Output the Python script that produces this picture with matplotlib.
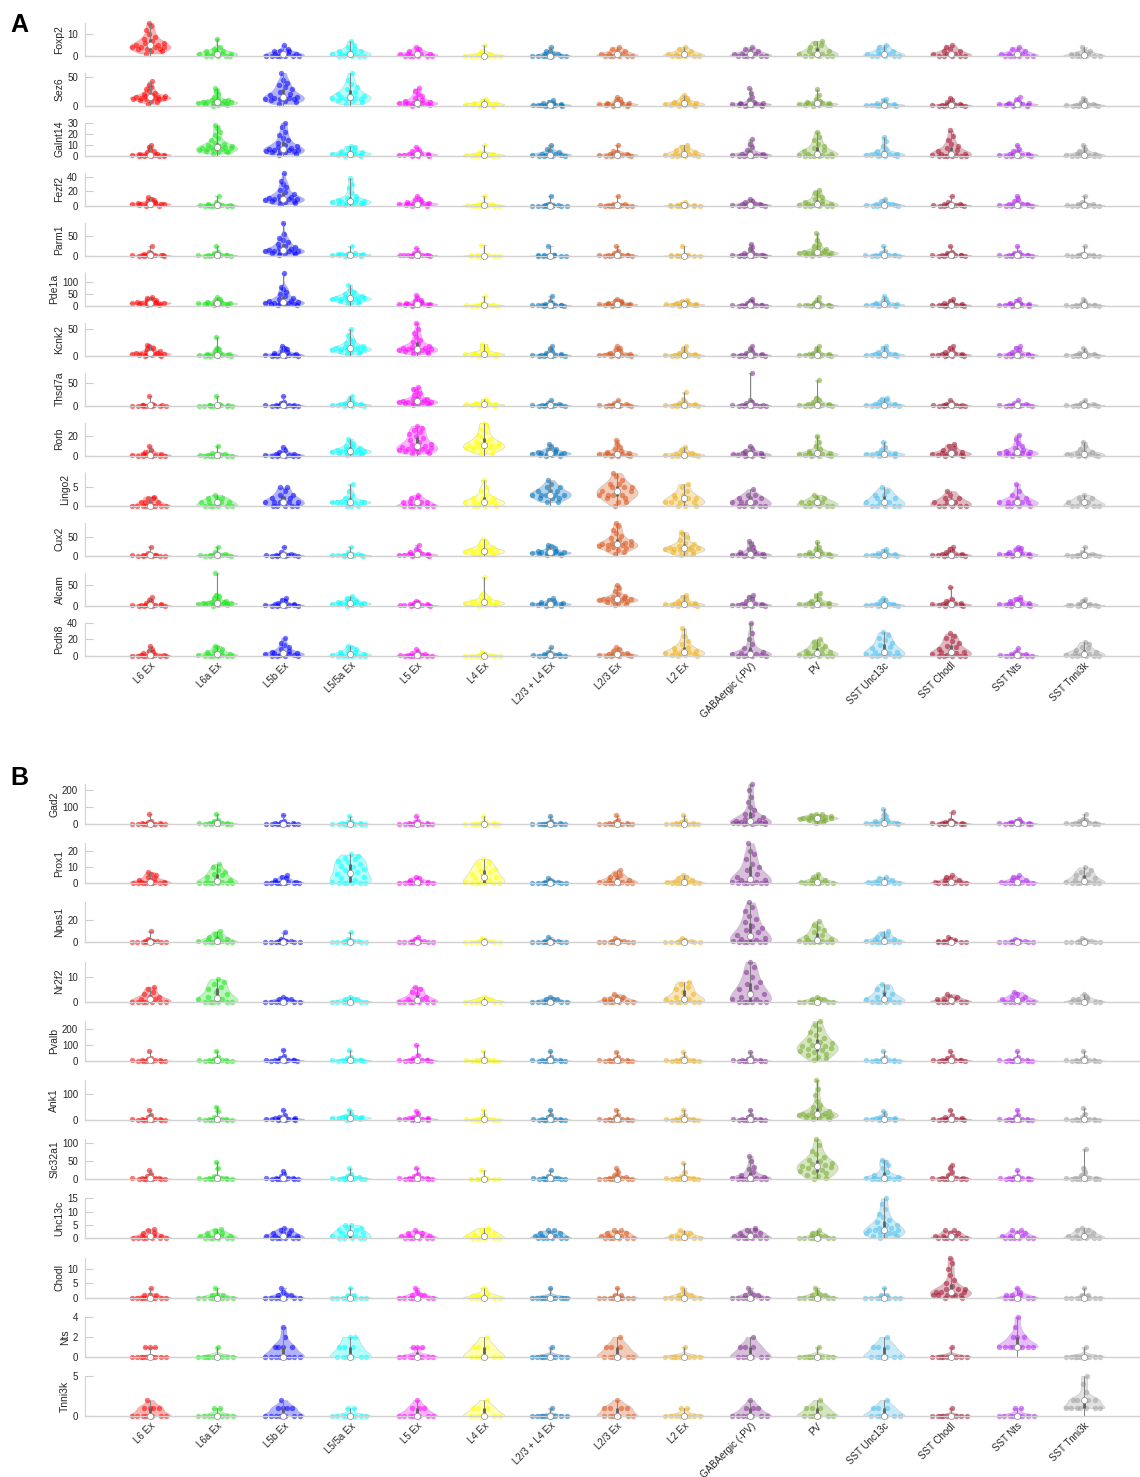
import matplotlib
matplotlib.use("Agg")
import matplotlib.pyplot as plt
import numpy as np
from matplotlib import cbook, mlab

plt.rcParams['font.family'] = ['Liberation Sans', 'DejaVu Sans']

cell_types = ['L6 Ex', 'L6a Ex', 'L5b Ex', 'L5/5a Ex', 'L5 Ex', 'L4 Ex', 'L2/3 + L4 Ex',
              'L2/3 Ex', 'L2 Ex', 'GABAergic (-PV)', 'PV', 'SST Unc13c', 'SST Chodl',
              'SST Nts', 'SST Tnni3k']
colors = [(1, 0, 0), (0.1, 0.9, 0.1), (0, 0, 1), (0, 1, 1), (1, 0, 1), (1, 1, 0),
          (0, 0.447, 0.741), (0.85, 0.325, 0.098), (0.929, 0.694, 0.125),
          (0.494, 0.184, 0.556), (0.466, 0.674, 0.188), (0.301, 0.745, 0.933),
          (0.635, 0.078, 0.184), (0.7, 0.15, 0.95), (0.62, 0.62, 0.62)]

# ---------------- panel A ----------------
foxp2 = [[1, 2, 2, 3, 3, 3, 4, 4, 4, 4, 5, 5, 5, 6, 6, 7, 8, 9, 10, 12, 14, 15.5],
         [0, 0, 0, 0, 0, 1, 1, 1, 1, 1, 2, 2, 2, 3, 4, 8],
         [0, 0, 0, 0, 0, 0, 0, 1, 1, 1, 1, 2, 2, 2, 3, 5],
         [0, 0, 0, 0, 0, 1, 1, 1, 1, 2, 2, 2, 3, 4, 5, 7],
         [0, 0, 0, 0, 0, 0, 1, 1, 1, 1, 2, 2, 3, 4],
         [0, 0, 0, 0, 0, 0, 0, 0, 1, 1, 1, 2, 5],
         [0, 0, 0, 0, 0, 0, 0, 1, 1, 1, 2, 2, 4],
         [0, 0, 0, 0, 0, 0, 1, 1, 1, 2, 2, 3, 4],
         [0, 0, 0, 0, 0, 0, 1, 1, 1, 2, 2, 3, 4],
         [0, 0, 0, 0, 0, 0, 1, 1, 1, 2, 2, 3, 4],
         [0, 0, 0, 0, 0, 1, 1, 1, 2, 2, 3, 4, 5, 6, 7],
         [0, 0, 0, 0, 0, 1, 1, 1, 2, 2, 3, 4, 5],
         [0, 0, 0, 0, 0, 1, 1, 1, 2, 2, 3, 4, 5],
         [0, 0, 0, 0, 0, 0, 1, 1, 1, 2, 2, 3, 4],
         [0, 0, 0, 0, 0, 0, 1, 1, 1, 2, 2, 4]]
sez6 = [[3, 6, 8, 10, 11, 12, 12, 13, 13, 14, 14, 15, 15, 16, 17, 18, 20, 22, 25, 28, 32, 36, 42],
        [0, 1, 2, 3, 3, 4, 5, 5, 6, 6, 7, 7, 8, 9, 10, 12, 15, 20, 25, 30],
        [3, 6, 8, 10, 11, 12, 12, 13, 14, 15, 16, 18, 20, 24, 28, 32, 36, 40, 45, 57],
        [3, 6, 8, 10, 11, 12, 13, 14, 15, 16, 18, 20, 24, 28, 32, 38, 45, 57],
        [0, 1, 2, 3, 3, 4, 4, 5, 5, 6, 7, 8, 10, 13, 16, 20, 25, 30],
        [0, 0, 1, 1, 2, 2, 3, 3, 3, 4, 4, 5, 6, 8, 12],
        [0, 0, 0, 1, 1, 1, 2, 2, 2, 3, 3, 4, 5, 7, 10],
        [0, 0, 1, 1, 2, 2, 3, 3, 3, 4, 4, 5, 6, 8, 11, 15],
        [0, 0, 1, 2, 2, 3, 3, 4, 4, 5, 6, 7, 9, 11, 14, 18],
        [0, 0, 1, 1, 2, 2, 3, 3, 3, 4, 4, 5, 7, 10, 15, 22, 30],
        [0, 1, 1, 2, 2, 3, 3, 4, 4, 5, 5, 6, 8, 12, 18, 28],
        [0, 0, 0, 1, 1, 1, 2, 2, 2, 3, 3, 4, 6, 9, 12],
        [0, 0, 0, 0, 1, 1, 1, 2, 2, 3, 4, 6, 9, 14],
        [0, 0, 1, 1, 2, 2, 3, 3, 3, 4, 4, 5, 7, 10, 15],
        [0, 0, 0, 0, 1, 1, 1, 2, 2, 3, 4, 6, 9, 14]]
galnt14 = [[0, 0, 0, 0, 0, 1, 1, 1, 1, 1, 2, 2, 2, 3, 4, 6, 8, 10],
           [2, 3, 3, 4, 4, 5, 5, 6, 6, 7, 7, 7, 8, 8, 9, 9, 10, 11, 12, 14, 16, 19, 22, 25, 28],
           [1, 2, 3, 3, 4, 4, 4, 5, 5, 5, 6, 6, 7, 8, 9, 10, 12, 14, 16, 19, 22, 26, 30],
           [0, 0, 1, 1, 1, 2, 2, 2, 2, 3, 3, 4, 5, 7, 8, 9],
           [0, 0, 0, 1, 1, 1, 1, 2, 2, 2, 3, 4, 5, 8],
           [0, 0, 0, 0, 0, 1, 1, 1, 1, 2, 2, 3, 10],
           [0, 0, 0, 0, 1, 1, 1, 2, 2, 3, 4, 6, 10],
           [0, 0, 0, 0, 1, 1, 1, 1, 2, 2, 3, 4, 10],
           [0, 0, 0, 0, 1, 1, 1, 2, 2, 3, 4, 5, 6, 8, 10],
           [0, 0, 0, 0, 1, 1, 1, 1, 2, 2, 3, 5, 8, 11, 15],
           [0, 0, 0, 0, 0, 0, 1, 1, 2, 2, 3, 4, 5, 7, 9, 11, 14, 17, 22],
           [0, 0, 0, 1, 1, 1, 1, 2, 2, 2, 3, 4, 6, 9, 13, 17],
           [0, 0, 0, 0, 0, 0, 1, 1, 2, 2, 3, 4, 5, 7, 9, 11, 14, 18, 23],
           [0, 0, 0, 0, 1, 1, 1, 1, 2, 2, 3, 4, 6, 10],
           [0, 0, 0, 0, 0, 1, 1, 1, 2, 2, 3, 4, 6, 10]]
fezf2 = [[0, 0, 1, 1, 2, 2, 2, 3, 3, 3, 4, 4, 5, 6, 8, 10, 12],
         [0, 0, 0, 0, 0, 0, 1, 1, 1, 1, 2, 2, 3, 5, 14],
         [2, 4, 5, 6, 7, 8, 8, 9, 9, 10, 10, 11, 12, 14, 16, 19, 22, 26, 30, 35, 46],
         [1, 2, 3, 3, 4, 4, 5, 5, 6, 6, 7, 8, 9, 11, 14, 18, 24, 30, 38],
         [0, 0, 1, 1, 2, 2, 3, 3, 3, 4, 4, 5, 6, 8, 10, 13],
         [0, 0, 0, 0, 0, 0, 1, 1, 1, 2, 2, 3, 14],
         [0, 0, 0, 0, 0, 0, 0, 1, 1, 1, 2, 3, 14],
         [0, 0, 0, 0, 0, 0, 1, 1, 1, 2, 2, 3, 14],
         [0, 0, 0, 0, 0, 0, 1, 1, 1, 1, 2, 3, 5],
         [0, 0, 0, 0, 1, 1, 1, 2, 2, 3, 4, 5, 7, 10],
         [0, 0, 0, 0, 0, 1, 1, 2, 2, 3, 4, 5, 7, 9, 12, 15, 18, 22],
         [0, 0, 0, 0, 1, 1, 1, 2, 2, 3, 4, 6, 10],
         [0, 0, 0, 0, 1, 1, 1, 1, 2, 2, 3, 5, 14],
         [0, 0, 0, 0, 1, 1, 1, 2, 2, 3, 4, 6, 9, 14],
         [0, 0, 0, 0, 0, 1, 1, 1, 2, 2, 3, 5, 14]]
parm1 = [[0, 0, 0, 0, 1, 1, 1, 2, 2, 2, 3, 4, 6, 10, 25],
         [0, 0, 0, 0, 1, 1, 1, 2, 2, 3, 4, 6, 10, 25],
         [2, 4, 6, 8, 9, 10, 11, 12, 12, 13, 14, 15, 17, 20, 23, 26, 30, 35, 40, 45, 55, 85],
         [0, 0, 1, 1, 2, 2, 3, 3, 4, 4, 5, 5, 6, 8, 25],
         [0, 0, 0, 1, 1, 1, 2, 2, 2, 3, 4, 6, 10, 20],
         [0, 0, 0, 0, 0, 0, 1, 1, 1, 2, 3, 28],
         [0, 0, 0, 0, 0, 0, 1, 1, 1, 2, 3, 25],
         [0, 0, 0, 0, 1, 1, 1, 2, 2, 3, 5, 8, 12, 25],
         [0, 0, 0, 0, 0, 0, 1, 1, 1, 2, 3, 25],
         [0, 0, 0, 0, 1, 1, 2, 2, 2, 3, 4, 6, 10, 16, 22, 30],
         [0, 1, 2, 3, 4, 5, 6, 7, 8, 8, 9, 10, 11, 13, 16, 20, 25, 30, 40, 58],
         [0, 0, 0, 0, 1, 1, 1, 2, 2, 3, 5, 8, 12, 25],
         [0, 0, 0, 0, 1, 1, 1, 2, 2, 3, 5, 8, 10, 25],
         [0, 0, 0, 0, 1, 1, 1, 2, 2, 3, 5, 8, 10, 25],
         [0, 0, 0, 0, 0, 1, 1, 1, 2, 2, 3, 5, 25]]
pde1a = [[2, 4, 6, 8, 9, 10, 11, 12, 12, 13, 14, 15, 17, 20, 24, 28, 33, 38],
         [2, 4, 6, 7, 8, 9, 10, 10, 11, 12, 13, 15, 18, 22, 28, 35],
         [2, 4, 6, 8, 9, 10, 11, 12, 13, 14, 16, 18, 22, 27, 33, 40, 50, 60, 70, 80, 140],
         [8, 12, 16, 20, 22, 25, 27, 28, 30, 31, 32, 34, 36, 38, 42, 46, 50, 56, 65, 88],
         [0, 1, 2, 3, 4, 5, 6, 7, 8, 9, 10, 12, 15, 20, 25, 32, 45],
         [0, 0, 0, 0, 1, 1, 2, 2, 3, 4, 6, 10, 40],
         [0, 0, 0, 1, 1, 2, 2, 3, 3, 4, 5, 7, 10, 20, 40],
         [0, 1, 2, 3, 4, 5, 6, 7, 7, 8, 10, 12, 15, 18, 22, 30],
         [0, 1, 2, 3, 4, 5, 6, 6, 7, 8, 10, 13, 16, 20, 25],
         [0, 0, 0, 0, 1, 1, 2, 2, 3, 4, 6, 10, 15, 20, 30],
         [0, 0, 0, 1, 1, 2, 2, 3, 3, 4, 6, 10, 15, 20, 35],
         [0, 0, 1, 2, 3, 4, 5, 5, 6, 7, 9, 12, 16, 20, 30, 40],
         [0, 0, 1, 1, 2, 3, 3, 4, 5, 6, 8, 10, 15, 20, 30],
         [0, 0, 1, 2, 3, 4, 4, 5, 6, 7, 8, 10, 13, 18, 30],
         [0, 0, 0, 0, 1, 1, 2, 2, 3, 4, 6, 10, 15, 30]]
kcnk2 = [[0, 0, 1, 1, 2, 2, 3, 3, 4, 4, 5, 5, 6, 7, 8, 10, 12, 15, 18, 20],
         [0, 0, 0, 0, 1, 1, 1, 2, 2, 3, 3, 4, 6, 8, 12, 15, 36],
         [0, 0, 0, 0, 1, 1, 1, 2, 2, 3, 4, 5, 7, 9, 12, 15, 18],
         [3, 5, 7, 8, 9, 10, 11, 12, 13, 13, 14, 15, 16, 17, 18, 20, 23, 27, 32, 38, 50],
         [3, 5, 7, 8, 9, 10, 11, 11, 12, 12, 13, 14, 15, 17, 19, 22, 26, 30, 36, 42, 50, 62],
         [0, 0, 1, 1, 2, 2, 3, 3, 4, 4, 5, 6, 8, 11, 15, 19, 22],
         [0, 0, 0, 0, 1, 1, 1, 2, 2, 3, 4, 6, 9, 13, 18],
         [0, 0, 0, 1, 1, 1, 2, 2, 3, 3, 4, 6, 8, 11, 14, 18],
         [0, 0, 0, 0, 1, 1, 1, 2, 2, 3, 4, 6, 9, 13, 18],
         [0, 0, 0, 0, 1, 1, 2, 2, 2, 3, 4, 6, 9, 13, 18],
         [0, 0, 0, 1, 1, 1, 2, 2, 3, 3, 4, 6, 9, 13, 18],
         [0, 0, 0, 1, 1, 2, 2, 3, 3, 4, 5, 7, 10, 14, 18],
         [0, 0, 0, 1, 1, 2, 2, 3, 3, 4, 5, 7, 10, 14, 18],
         [0, 0, 0, 0, 1, 1, 2, 2, 3, 4, 5, 7, 10, 14, 18],
         [0, 0, 0, 0, 1, 1, 1, 2, 2, 3, 4, 5, 8, 15]]
thsd7a = [[0, 0, 0, 0, 0, 0, 0, 1, 1, 1, 2, 2, 3, 22],
          [0, 0, 0, 0, 0, 0, 0, 1, 1, 1, 2, 2, 3, 22],
          [0, 0, 0, 0, 0, 1, 1, 1, 2, 2, 3, 5, 8, 22],
          [0, 0, 0, 1, 1, 2, 2, 3, 3, 4, 5, 7, 10, 14, 22],
          [1, 3, 4, 5, 6, 7, 8, 8, 9, 9, 10, 11, 12, 14, 16, 19, 23, 28, 34, 38, 42],
          [0, 0, 1, 1, 2, 2, 3, 3, 3, 4, 5, 6, 8, 11, 15],
          [0, 0, 0, 0, 1, 1, 1, 2, 2, 3, 4, 6, 12],
          [0, 0, 0, 0, 1, 1, 1, 2, 2, 3, 4, 6, 12],
          [0, 0, 0, 0, 1, 1, 1, 2, 2, 3, 4, 6, 9, 14, 30],
          [0, 0, 0, 0, 0, 1, 1, 1, 2, 2, 3, 5, 8, 12, 74],
          [0, 0, 0, 0, 1, 1, 2, 2, 3, 4, 6, 9, 13, 18, 58],
          [0, 0, 0, 0, 1, 1, 2, 2, 3, 4, 6, 9, 12, 15, 18],
          [0, 0, 0, 0, 0, 1, 1, 1, 2, 2, 3, 4, 6, 12],
          [0, 0, 0, 0, 1, 1, 1, 2, 2, 3, 4, 6, 12],
          [0, 0, 0, 0, 1, 1, 1, 2, 2, 3, 4, 6, 12]]
rorb = [[0, 0, 0, 0, 0, 1, 1, 1, 2, 2, 3, 4, 6, 10],
        [0, 0, 0, 0, 0, 0, 1, 1, 1, 2, 2, 3, 10],
        [0, 0, 0, 0, 0, 1, 1, 1, 2, 2, 3, 4, 6, 9],
        [1, 2, 2, 3, 3, 4, 4, 4, 5, 5, 5, 6, 6, 7, 8, 9, 10, 12, 14, 17],
        [2, 3, 4, 5, 5, 6, 6, 7, 7, 8, 8, 9, 10, 11, 12, 14, 16, 18, 20, 22, 24, 26, 28, 30],
        [2, 3, 5, 6, 7, 8, 8, 9, 9, 10, 10, 11, 11, 12, 13, 14, 15, 17, 19, 21, 24, 27, 30, 33],
        [0, 0, 1, 1, 2, 2, 2, 3, 3, 3, 4, 4, 5, 6, 7, 9, 12],
        [0, 0, 0, 1, 1, 1, 2, 2, 2, 3, 3, 4, 5, 7, 9, 12, 16],
        [0, 0, 0, 0, 1, 1, 1, 2, 2, 3, 4, 6, 9],
        [0, 0, 0, 1, 1, 1, 2, 2, 3, 3, 4, 5, 7, 10],
        [0, 0, 0, 1, 1, 1, 2, 2, 3, 3, 4, 5, 7, 10, 14, 20],
        [0, 0, 1, 1, 1, 2, 2, 2, 3, 3, 4, 6, 9, 14],
        [0, 0, 1, 1, 1, 2, 2, 3, 3, 4, 5, 6, 8, 10, 12],
        [0, 0, 1, 1, 2, 2, 3, 3, 3, 4, 4, 5, 6, 8, 10, 13, 17, 21],
        [0, 0, 0, 1, 1, 1, 2, 2, 3, 4, 5, 7, 10, 14]]
lingo2 = [[0, 0, 0, 0, 0, 0, 0, 0, 1, 1, 1, 1, 2, 2, 2.5],
          [0, 0, 0, 0, 0, 0, 1, 1, 1, 1, 2, 2, 2, 3],
          [0, 0, 0, 0, 0, 1, 1, 1, 1, 1, 2, 2, 2, 3, 3, 4, 5, 5],
          [0, 0, 0, 1, 1, 1, 1, 1, 1, 1, 2, 2, 3, 4, 6],
          [0, 0, 0, 0, 0, 0, 1, 1, 1, 1, 2, 2, 3],
          [0, 0, 0, 0, 1, 1, 1, 1, 1, 2, 2, 2, 3, 4, 5, 7],
          [1, 1, 2, 2, 2, 3, 3, 3, 3, 3, 4, 4, 4, 5, 5, 6, 7],
          [0, 1, 1, 2, 2, 3, 3, 3, 3, 4, 4, 4, 5, 5, 5, 6, 6, 7, 8, 9],
          [0, 0, 0, 1, 1, 1, 1, 2, 2, 2, 3, 3, 4, 5, 6],
          [0, 0, 0, 0, 0, 1, 1, 1, 1, 2, 2, 2, 3, 3, 4.5],
          [0, 0, 0, 0, 0, 1, 1, 1, 1, 2, 2, 3],
          [0, 0, 0, 0, 0, 1, 1, 1, 2, 2, 3, 3, 4, 5],
          [0, 0, 0, 0, 0, 1, 1, 1, 2, 2, 3, 4],
          [0, 0, 0, 0, 1, 1, 1, 1, 1, 2, 2, 3, 4, 6],
          [0, 0, 0, 0, 0, 1, 1, 1, 2, 2, 3]]
cux2 = [[0, 0, 0, 0, 0, 1, 1, 1, 2, 3, 5, 8, 25],
        [0, 0, 0, 0, 1, 1, 2, 2, 3, 4, 6, 10, 25],
        [0, 0, 0, 0, 1, 1, 2, 2, 3, 4, 6, 10, 25],
        [0, 0, 0, 1, 1, 2, 2, 3, 3, 4, 6, 10, 25],
        [0, 0, 1, 2, 2, 3, 3, 4, 5, 6, 7, 9, 12, 18, 30],
        [1, 3, 5, 7, 8, 10, 11, 12, 13, 14, 15, 16, 18, 20, 23, 27, 32, 38, 45],
        [1, 3, 4, 5, 6, 7, 8, 9, 10, 10, 11, 12, 14, 17, 21, 26, 30],
        [5, 10, 15, 18, 21, 24, 26, 28, 29, 30, 31, 32, 34, 36, 39, 43, 48, 55, 62, 70, 80, 90],
        [2, 5, 8, 11, 13, 15, 17, 18, 19, 20, 21, 22, 24, 27, 31, 36, 42, 50, 58, 65],
        [0, 0, 0, 1, 2, 2, 3, 4, 5, 6, 7, 9, 13, 18, 25, 32, 40],
        [0, 0, 0, 1, 2, 2, 3, 4, 5, 6, 7, 9, 13, 18, 25, 38],
        [0, 0, 0, 1, 1, 2, 2, 3, 3, 4, 5, 7, 10, 14, 18],
        [0, 0, 0, 1, 1, 2, 2, 3, 4, 5, 7, 10, 14, 19, 25],
        [0, 0, 1, 1, 2, 3, 4, 4, 5, 6, 7, 9, 12, 16, 20, 25],
        [0, 0, 0, 0, 1, 1, 2, 2, 3, 4, 6, 10, 25]]
alcam = [[0, 0, 0, 0, 1, 1, 1, 2, 2, 3, 4, 6, 10, 14, 20],
         [0, 1, 2, 3, 4, 4, 5, 5, 6, 6, 7, 7, 8, 9, 11, 14, 18, 22, 25, 78],
         [0, 0, 0, 0, 1, 1, 2, 2, 3, 4, 5, 7, 10, 14, 18],
         [0, 1, 2, 3, 4, 4, 5, 5, 6, 6, 7, 8, 9, 11, 13, 16, 19, 22],
         [0, 0, 0, 1, 1, 1, 2, 2, 3, 3, 4, 6, 9, 12],
         [0, 1, 2, 3, 4, 5, 6, 7, 8, 8, 9, 10, 12, 14, 18, 23, 28, 68],
         [0, 0, 1, 2, 3, 3, 4, 5, 5, 6, 7, 8, 10, 13, 18],
         [2, 5, 7, 9, 11, 12, 13, 14, 15, 15, 16, 17, 19, 21, 24, 28, 34, 42, 50],
         [0, 0, 1, 1, 2, 3, 3, 4, 5, 6, 8, 11, 15, 20, 25],
         [0, 0, 0, 1, 1, 2, 2, 3, 4, 5, 7, 10, 15, 20, 25],
         [0, 0, 1, 2, 3, 4, 5, 5, 6, 7, 9, 12, 17, 24, 30],
         [0, 0, 0, 1, 1, 2, 2, 3, 4, 5, 7, 10, 14, 18],
         [0, 0, 1, 1, 2, 3, 3, 4, 5, 6, 8, 11, 16, 45],
         [0, 0, 1, 1, 2, 3, 3, 4, 5, 6, 8, 10, 13, 16, 20],
         [0, 0, 0, 1, 1, 1, 2, 2, 3, 4, 6, 10, 15]]
pcdh8 = [[0, 0, 0, 0, 0, 0, 0, 1, 1, 1, 2, 3, 4, 6, 8, 12],
         [0, 0, 0, 0, 0, 0, 1, 1, 2, 2, 3, 4, 5, 6, 8, 10, 12],
         [0, 0, 0, 0, 1, 1, 2, 2, 3, 3, 4, 5, 6, 8, 10, 13, 16, 22],
         [0, 0, 0, 0, 0, 0, 1, 1, 2, 2, 3, 4, 5, 6, 8, 10, 12],
         [0, 0, 0, 0, 0, 0, 1, 1, 1, 2, 2, 3, 5, 8],
         [0, 0, 0, 0, 0, 0, 0, 1, 1, 1, 2, 5],
         [0, 0, 0, 0, 0, 1, 1, 1, 2, 2, 3, 5, 10],
         [0, 0, 0, 0, 1, 1, 1, 2, 2, 3, 4, 6, 8, 10],
         [0, 0, 1, 1, 2, 3, 3, 4, 5, 6, 7, 9, 11, 14, 18, 24, 33],
         [0, 0, 0, 0, 1, 1, 2, 2, 3, 4, 6, 9, 14, 20, 28, 40],
         [0, 0, 0, 0, 0, 1, 1, 2, 3, 4, 5, 6, 8, 10, 12, 14, 17, 20],
         [0, 0, 0, 0, 0, 1, 2, 3, 4, 5, 7, 9, 11, 13, 16, 19, 22, 25, 29],
         [0, 0, 0, 0, 0, 1, 2, 3, 4, 5, 6, 8, 10, 12, 15, 18, 21, 24, 27],
         [0, 0, 0, 0, 0, 1, 1, 1, 2, 2, 3, 5, 9],
         [0, 0, 0, 0, 0, 1, 1, 2, 3, 4, 5, 7, 9, 11, 14, 17]]

# ---------------- panel B ----------------
gad2 = [[0, 0, 0, 0, 1, 1, 2, 2, 3, 4, 6, 10, 20, 60],
        [0, 0, 1, 1, 2, 3, 4, 5, 6, 8, 12, 18, 25, 60],
        [0, 0, 0, 0, 1, 1, 2, 2, 3, 4, 6, 10, 20, 55],
        [0, 0, 0, 0, 1, 1, 2, 2, 3, 4, 6, 10, 20, 45],
        [0, 0, 0, 0, 1, 1, 2, 2, 3, 4, 6, 10, 20, 45],
        [0, 0, 0, 0, 1, 1, 1, 2, 2, 3, 5, 8, 20, 45],
        [0, 0, 0, 0, 1, 1, 1, 2, 2, 3, 5, 8, 20, 45],
        [0, 0, 0, 0, 1, 1, 2, 2, 3, 4, 6, 10, 25, 50],
        [0, 0, 0, 0, 1, 1, 2, 2, 3, 4, 6, 10, 25, 50],
        [0, 1, 2, 3, 4, 5, 6, 8, 10, 12, 15, 20, 25, 32, 40, 50, 60, 80, 100, 130, 160, 200, 235],
        [5, 12, 18, 22, 25, 28, 30, 32, 34, 35, 36, 38, 40, 42, 45, 48, 52, 56, 60],
        [0, 0, 1, 2, 3, 3, 4, 5, 6, 8, 11, 15, 22, 30, 45, 60, 90],
        [0, 0, 0, 1, 2, 3, 4, 5, 6, 7, 9, 12, 18, 25, 70],
        [0, 0, 0, 1, 2, 3, 4, 5, 6, 7, 9, 12, 16, 20, 30],
        [0, 0, 0, 1, 2, 3, 4, 5, 6, 8, 11, 15, 22, 30, 60]]
prox1 = [[0, 0, 0, 0, 0, 0, 0, 1, 1, 1, 2, 2, 3, 4, 5, 6, 7],
         [0, 0, 0, 0, 0, 0, 0, 1, 1, 2, 3, 4, 5, 6, 7, 8, 10, 12],
         [0, 0, 0, 0, 0, 0, 0, 1, 1, 1, 2, 2, 3, 4, 5],
         [0, 0, 0, 0, 0, 0, 1, 2, 3, 4, 5, 6, 7, 8, 9, 10, 11, 12, 13, 14, 15, 16, 17, 18],
         [0, 0, 0, 0, 0, 0, 0, 1, 1, 1, 2, 2, 3, 4],
         [0, 0, 0, 0, 0, 0, 1, 2, 3, 4, 5, 6, 7, 8, 9, 10, 12, 13, 15],
         [0, 0, 0, 0, 0, 0, 0, 1, 1, 1, 2, 3],
         [0, 0, 0, 0, 0, 0, 1, 1, 2, 2, 3, 4, 5, 6, 8],
         [0, 0, 0, 0, 0, 0, 1, 1, 1, 2, 2, 3, 4, 5],
         [0, 0, 0, 0, 0, 0, 1, 1, 2, 2, 3, 4, 6, 8, 10, 12, 15, 18, 20, 25],
         [0, 0, 0, 0, 0, 0, 1, 1, 2, 2, 3, 4, 6],
         [0, 0, 0, 0, 0, 0, 1, 1, 1, 2, 2, 3, 4],
         [0, 0, 0, 0, 0, 0, 1, 1, 2, 2, 3, 4, 5],
         [0, 0, 0, 0, 0, 0, 1, 1, 2, 2, 3, 4, 5],
         [0, 0, 0, 0, 0, 0, 1, 1, 2, 3, 4, 5, 6, 7, 8, 10]]
npas1 = [[0, 0, 0, 0, 0, 0, 0, 1, 1, 1, 2, 3, 10],
         [0, 0, 0, 0, 0, 0, 1, 1, 2, 3, 4, 5, 6, 8, 10],
         [0, 0, 0, 0, 0, 0, 0, 1, 1, 1, 2, 3, 9],
         [0, 0, 0, 0, 0, 0, 0, 1, 1, 1, 2, 3, 9],
         [0, 0, 0, 0, 0, 0, 0, 1, 1, 1, 2, 3, 5],
         [0, 0, 0, 0, 0, 0, 0, 1, 1, 1, 2, 4],
         [0, 0, 0, 0, 0, 0, 0, 1, 1, 1, 2, 5],
         [0, 0, 0, 0, 0, 0, 0, 1, 1, 1, 2, 4],
         [0, 0, 0, 0, 0, 0, 0, 1, 1, 1, 2, 4],
         [0, 0, 0, 0, 0, 0, 1, 2, 3, 4, 5, 7, 9, 11, 13, 15, 18, 21, 24, 28, 32, 36],
         [0, 0, 0, 0, 0, 0, 1, 1, 2, 3, 4, 5, 7, 9, 11, 13, 16, 19],
         [0, 0, 0, 0, 0, 0, 1, 1, 2, 3, 4, 5, 7, 8, 10],
         [0, 0, 0, 0, 0, 0, 1, 1, 1, 2, 3, 5],
         [0, 0, 0, 0, 0, 0, 0, 1, 1, 1, 2, 3],
         [0, 0, 0, 0, 0, 0, 0, 1, 1, 1, 2, 4]]
nr2f2 = [[0, 0, 0, 0, 0, 0, 0, 1, 1, 2, 2, 3, 4, 5, 6],
         [0, 0, 0, 0, 0, 0, 1, 1, 2, 3, 4, 5, 6, 7, 8, 9],
         [0, 0, 0, 0, 0, 0, 0, 1, 1, 1, 2],
         [0, 0, 0, 0, 0, 0, 0, 1, 1, 1, 2],
         [0, 0, 0, 0, 0, 0, 0, 1, 1, 2, 3, 4, 5, 6],
         [0, 0, 0, 0, 0, 0, 0, 1, 1, 1, 2],
         [0, 0, 0, 0, 0, 0, 0, 1, 1, 1, 2],
         [0, 0, 0, 0, 0, 0, 1, 1, 1, 2, 2, 3],
         [0, 0, 0, 0, 0, 0, 1, 1, 2, 3, 4, 5, 6, 7, 8],
         [0, 0, 0, 0, 0, 0, 1, 1, 2, 3, 4, 5, 6, 7, 8, 10, 12, 14, 16],
         [0, 0, 0, 0, 0, 0, 0, 1, 1, 1, 2],
         [0, 0, 0, 0, 0, 0, 1, 1, 2, 3, 4, 5, 6, 7],
         [0, 0, 0, 0, 0, 0, 1, 1, 1, 2, 2, 3],
         [0, 0, 0, 0, 0, 0, 1, 1, 2, 2, 3, 4],
         [0, 0, 0, 0, 0, 0, 1, 1, 1, 2, 3]]
pvalb = [[0, 0, 0, 0, 1, 1, 2, 2, 3, 4, 6, 10, 20, 60],
         [0, 0, 0, 0, 1, 1, 2, 2, 3, 4, 6, 10, 25, 60],
         [0, 0, 0, 1, 2, 3, 4, 5, 6, 8, 11, 15, 30, 70],
         [0, 0, 0, 1, 2, 3, 4, 5, 6, 8, 10, 15, 25, 65],
         [0, 0, 0, 1, 2, 3, 4, 5, 6, 8, 11, 15, 35, 100],
         [0, 0, 0, 0, 1, 1, 2, 2, 3, 4, 6, 10, 20, 60],
         [0, 0, 0, 0, 1, 1, 2, 2, 3, 4, 6, 10, 25, 60],
         [0, 0, 0, 0, 1, 1, 2, 2, 3, 4, 6, 10, 25, 55],
         [0, 0, 0, 0, 1, 1, 2, 2, 3, 4, 6, 10, 25, 55],
         [0, 0, 0, 0, 1, 1, 2, 2, 3, 4, 6, 10, 25, 55],
         [5, 15, 25, 35, 45, 55, 62, 70, 75, 80, 85, 90, 95, 100, 110, 120, 130, 145, 160, 180, 200, 225, 250],
         [0, 0, 0, 0, 1, 1, 2, 2, 3, 4, 6, 10, 25, 60],
         [0, 0, 0, 1, 2, 3, 4, 5, 6, 8, 11, 15, 30, 60],
         [0, 0, 0, 0, 1, 1, 2, 2, 3, 4, 6, 10, 25, 60],
         [0, 0, 0, 0, 1, 1, 2, 2, 3, 4, 6, 10, 25, 60]]
ank1 = [[0, 0, 0, 0, 1, 1, 2, 2, 3, 4, 6, 10, 20, 40],
        [0, 0, 0, 0, 1, 1, 2, 2, 3, 4, 6, 10, 35, 52],
        [0, 0, 1, 2, 3, 4, 5, 5, 6, 7, 9, 12, 20, 40],
        [0, 2, 4, 6, 7, 8, 9, 10, 11, 12, 14, 17, 25, 40],
        [0, 0, 1, 2, 3, 4, 5, 5, 6, 7, 9, 12, 22, 35],
        [0, 0, 0, 0, 1, 1, 2, 2, 3, 4, 6, 10, 20, 40],
        [0, 0, 0, 0, 1, 1, 2, 2, 3, 4, 6, 10, 20, 40],
        [0, 0, 0, 0, 1, 1, 2, 2, 3, 4, 6, 10, 20, 40],
        [0, 0, 0, 0, 1, 1, 2, 2, 3, 4, 6, 10, 20, 40],
        [0, 0, 0, 0, 1, 1, 2, 2, 3, 4, 6, 10, 20, 40],
        [2, 5, 8, 11, 14, 16, 18, 19, 20, 21, 22, 24, 26, 30, 35, 42, 50, 60, 75, 95, 120, 155],
        [0, 0, 1, 2, 3, 4, 5, 5, 6, 7, 9, 12, 22, 35],
        [0, 0, 0, 1, 2, 3, 4, 4, 5, 6, 8, 10, 20, 40],
        [0, 0, 0, 0, 1, 1, 2, 2, 3, 4, 6, 10, 20, 40],
        [0, 0, 0, 0, 1, 1, 2, 2, 3, 4, 6, 10, 25, 45]]
slc32a1 = [[0, 0, 0, 0, 1, 1, 2, 2, 3, 4, 5, 8, 15, 25],
           [0, 0, 0, 0, 1, 1, 2, 2, 3, 4, 6, 10, 30, 48],
           [0, 0, 0, 0, 1, 1, 2, 2, 3, 4, 5, 8, 15, 22],
           [0, 0, 0, 0, 1, 1, 2, 3, 4, 5, 6, 10, 15, 30],
           [0, 0, 0, 0, 1, 1, 2, 2, 3, 4, 6, 10, 15, 32],
           [0, 0, 0, 0, 0, 0, 1, 1, 1, 2, 4, 25],
           [0, 0, 0, 0, 1, 1, 2, 2, 3, 4, 6, 10, 25],
           [0, 0, 0, 0, 1, 1, 1, 2, 3, 5, 8, 12, 20, 30],
           [0, 0, 0, 0, 1, 1, 2, 2, 3, 4, 6, 10, 20, 45],
           [0, 0, 0, 0, 1, 1, 2, 2, 3, 5, 8, 12, 20, 28, 35, 50, 65],
           [0, 4, 8, 12, 16, 20, 24, 27, 30, 33, 35, 37, 40, 43, 46, 50, 55, 62, 70, 80, 95, 112],
           [0, 0, 0, 0, 1, 1, 2, 2, 3, 5, 8, 12, 20, 30, 40, 48, 55],
           [0, 0, 0, 0, 1, 1, 2, 2, 3, 4, 6, 12, 20, 30, 40],
           [0, 0, 0, 0, 1, 1, 2, 2, 2, 3, 4, 6, 10, 25],
           [0, 0, 0, 0, 1, 1, 2, 2, 3, 4, 6, 12, 20, 30, 85]]
unc13c = [[0, 0, 0, 0, 0, 0, 0, 1, 1, 1, 1, 2, 2, 3, 3.5],
          [0, 0, 0, 0, 0, 0, 1, 1, 1, 1, 2, 2, 2, 3, 3.5],
          [0, 0, 0, 0, 0, 0, 1, 1, 1, 1, 2, 2, 2, 3, 3, 4],
          [0, 0, 0, 0, 0, 1, 1, 1, 2, 2, 2, 3, 3, 4, 4, 5, 5],
          [0, 0, 0, 0, 0, 0, 1, 1, 1, 1, 2, 2, 2, 3],
          [0, 0, 0, 0, 0, 0, 1, 1, 1, 2, 2, 2, 3, 3, 4],
          [0, 0, 0, 0, 0, 0, 1, 1, 1, 2, 2, 2, 3, 3],
          [0, 0, 0, 0, 0, 0, 1, 1, 1, 2, 2, 2, 3, 3],
          [0, 0, 0, 0, 0, 0, 1, 1, 1, 2, 2, 3],
          [0, 0, 0, 0, 0, 0, 1, 1, 1, 2, 2, 2, 3, 3, 4],
          [0, 0, 0, 0, 0, 0, 0, 1, 1, 1, 2, 2, 3],
          [0, 1, 1, 1, 2, 2, 2, 2, 3, 3, 3, 3, 4, 4, 5, 5, 6, 7, 8, 9, 11, 13, 15],
          [0, 0, 0, 0, 0, 0, 1, 1, 1, 2, 2, 3, 3],
          [0, 0, 0, 0, 0, 0, 1, 1, 1, 2, 2, 3, 3],
          [0, 0, 0, 0, 0, 0, 1, 1, 1, 2, 2, 3, 3, 4]]
chodl = [[0, 0, 0, 0, 0, 0, 0, 0, 0, 1, 1, 1, 3.5],
         [0, 0, 0, 0, 0, 0, 0, 0, 1, 1, 1, 3.5],
         [0, 0, 0, 0, 0, 0, 0, 1, 1, 1, 2, 3.5],
         [0, 0, 0, 0, 0, 0, 0, 0, 1, 1, 3.5],
         [0, 0, 0, 0, 0, 0, 0, 1, 1, 1, 2, 3.5],
         [0, 0, 0, 0, 0, 0, 1, 1, 1, 2, 3.5],
         [0, 0, 0, 0, 0, 0, 0, 0, 0, 0, 3.5],
         [0, 0, 0, 0, 0, 0, 0, 0, 1, 1, 3.5],
         [0, 0, 0, 0, 0, 0, 0, 1, 1, 1, 2, 3.5],
         [0, 0, 0, 0, 0, 0, 0, 1, 1, 1, 2, 3.5],
         [0, 0, 0, 0, 0, 0, 0, 1, 1, 1, 2, 3.5],
         [0, 0, 0, 0, 0, 0, 0, 0, 1, 1, 3.5],
         [0, 0, 1, 1, 1, 1, 1, 1, 2, 2, 2, 2, 3, 3, 3, 4, 5, 6, 8, 10, 12, 14],
         [0, 0, 0, 0, 0, 0, 1, 1, 1, 2, 3.5],
         [0, 0, 0, 0, 0, 0, 0, 0, 1, 1, 3.5]]
nts = [[0, 0, 0, 0, 0, 0, 0, 0, 0, 1, 1, 1],
       [0, 0, 0, 0, 0, 0, 0, 0, 0, 1],
       [0, 0, 0, 0, 0, 0, 0, 0, 1, 1, 1, 1, 2, 3],
       [0, 0, 0, 0, 0, 0, 1, 1, 1, 2, 2],
       [0, 0, 0, 0, 0, 0, 0, 0, 1, 1, 1],
       [0, 0, 0, 0, 0, 0, 1, 1, 1, 2],
       [0, 0, 0, 0, 0, 0, 0, 0, 0, 1],
       [0, 0, 0, 0, 0, 0, 1, 1, 1, 2],
       [0, 0, 0, 0, 0, 0, 0, 0, 0, 1],
       [0, 0, 0, 0, 0, 0, 1, 1, 1, 2],
       [0, 0, 0, 0, 0, 0, 0, 0, 0, 1],
       [0, 0, 0, 0, 0, 0, 1, 1, 1, 2],
       [0, 0, 0, 0, 0, 0, 0, 0, 0, 1],
       [1, 1, 1, 1, 1, 1, 1, 1, 2, 2, 2, 3, 4],
       [0, 0, 0, 0, 0, 0, 0, 0, 0, 1]]
tnni3k = [[0, 0, 0, 0, 0, 0, 0, 1, 1, 1, 1, 2],
          [0, 0, 0, 0, 0, 0, 0, 0, 1, 1],
          [0, 0, 0, 0, 0, 0, 0, 1, 1, 1, 1, 2],
          [0, 0, 0, 0, 0, 0, 0, 0, 1, 1],
          [0, 0, 0, 0, 0, 0, 0, 1, 1, 1, 2],
          [0, 0, 0, 0, 0, 0, 1, 1, 1, 2],
          [0, 0, 0, 0, 0, 0, 0, 0, 0, 1],
          [0, 0, 0, 0, 0, 0, 1, 1, 1, 1, 2],
          [0, 0, 0, 0, 0, 0, 0, 0, 1, 1],
          [0, 0, 0, 0, 0, 0, 0, 1, 1, 1, 2],
          [0, 0, 0, 0, 0, 0, 1, 1, 1, 2],
          [0, 0, 0, 0, 0, 0, 1, 1, 1, 2],
          [0, 0, 0, 0, 0, 0, 0, 0, 0, 1],
          [0, 0, 0, 0, 0, 0, 0, 0, 1, 1],
          [1, 1, 1, 1, 1, 1, 1, 2, 2, 2, 2, 2, 3, 4, 5]]

genes_a = ['Foxp2', 'Sez6', 'Galnt14', 'Fezf2', 'Parm1', 'Pde1a', 'Kcnk2', 'Thsd7a',
           'Rorb', 'Lingo2', 'Cux2', 'Alcam', 'Pcdh8']
data_a = [foxp2, sez6, galnt14, fezf2, parm1, pde1a, kcnk2, thsd7a, rorb, lingo2,
          cux2, alcam, pcdh8]
ticks_a = [[0, 10], [0, 50], [0, 10, 20, 30], [0, 20, 40], [0, 50], [0, 50, 100],
           [0, 50], [0, 50], [0, 20], [0, 5], [0, 50], [0, 50], [0, 20, 40]]

genes_b = ['Gad2', 'Prox1', 'Npas1', 'Nr2f2', 'Pvalb', 'Ank1', 'Slc32a1', 'Unc13c',
           'Chodl', 'Nts', 'Tnni3k']
data_b = [gad2, prox1, npas1, nr2f2, pvalb, ank1, slc32a1, unc13c, chodl, nts, tnni3k]
ticks_b = [[0, 100, 200], [0, 10, 20], [0, 20], [0, 10], [0, 100, 200], [0, 100],
           [0, 50, 100], [0, 5, 10, 15], [0, 5, 10], [0, 2, 4], [0, 5]]

W, H = 1140, 1477
fig = plt.figure(figsize=(W / 100, H / 100), dpi=100)
VW = 0.62


def kde(x, coords):
    # silverman bandwidth with a robust spread, so single outliers stay thin spikes
    sd = x.std(ddof=1)
    iqr = np.subtract(*np.percentile(x, [75, 25]))
    sig = min(sd, iqr / 1.349) if iqr > 0 else sd
    bw = 1.06 * sig * len(x) ** -0.2
    return mlab.GaussianKDE(x, bw / sd).evaluate(coords)


def draw_row(ax, groups, gene, ticks):
    pos = np.arange(1, len(groups) + 1)
    arrs = [np.asarray(g, float) for g in groups]
    stats = cbook.violin_stats(arrs, kde, points=150)
    parts = ax.violin(stats, positions=pos, widths=VW, showmeans=False,
                      showextrema=False, showmedians=False)
    for body, c in zip(parts['bodies'], colors):
        body.set_facecolor((*c, 0.3))
        body.set_edgecolor((0.5, 0.5, 0.5, 0.5))
        body.set_linewidth(0.5)
        body.set_zorder(1)
    for p, v, st, c in zip(pos, arrs, stats, colors):
        half = 0.5 * VW * np.interp(v, st['coords'], st['vals']) / st['vals'].max()
        u = ((np.arange(len(v)) * 0.618034 + 0.31) % 1) * 2 - 1
        ax.scatter(p + 0.92 * u * half, v, s=15, color=c, alpha=0.55, lw=0,
                   zorder=2, clip_on=False)
        q1, q2, q3 = np.percentile(v, [25, 50, 75])
        lo = min(v.min(), max(0, q1 - 1.5 * (q3 - q1)))
        ax.vlines(p, lo, v.max(), color=(0.5, 0.5, 0.5), lw=0.7, zorder=3)
        ax.vlines(p, q1, q3, color=(0.38, 0.38, 0.38), lw=2.0, zorder=3)
        ax.scatter([p], [q2], s=20, facecolor='white', edgecolor=(0.55, 0.55, 0.55),
                   lw=0.5, zorder=5, clip_on=False)
    ymax = max(a.max() for a in arrs)
    ax.set_ylim(0, ymax)
    ax.set_xlim(0.0255, 15.84)
    ax.set_yticks(ticks)
    ax.set_ylabel(gene, fontsize=7.5, color='0.15', labelpad=2)
    for s in ['top', 'right']:
        ax.spines[s].set_visible(False)
    ax.spines['left'].set_color('0.82')
    ax.spines['bottom'].set_color('0.82')
    ax.spines['left'].set_linewidth(0.8)
    ax.spines['bottom'].set_linewidth(1.0)
    ax.tick_params(axis='y', direction='in', length=5.5, width=0.8, color='0.8',
                   labelsize=7, labelcolor='0.15', pad=5)
    ax.set_facecolor('none')


def draw_panel(genes, data, ticks, zero0, step, height):
    for k, (g, d, t) in enumerate(zip(genes, data, ticks)):
        y0 = zero0 + step * k
        ax = fig.add_axes([85 / W, 1 - y0 / H, (W - 85) / W, height / H])
        draw_row(ax, d, g, t)
        if k == len(genes) - 1:
            ax.set_xticks(np.arange(1, 16))
            ax.set_xticklabels(cell_types, rotation=45, ha='right',
                               rotation_mode='anchor', fontsize=7, color='0.15')
            ax.tick_params(axis='x', length=0, pad=3.5)
        else:
            ax.set_xticks([])


draw_panel(genes_a, data_a, ticks_a, 55.7, 50.0, 33)
draw_panel(genes_b, data_b, ticks_b, 824.0, 59.2, 40)

fig.text(10 / W, 1 - 25 / H, 'A', fontsize=18, fontweight='bold', va='center')
fig.text(10 / W, 1 - 778 / H, 'B', fontsize=18, fontweight='bold', va='center')

fig.savefig('out.png', dpi=100)
